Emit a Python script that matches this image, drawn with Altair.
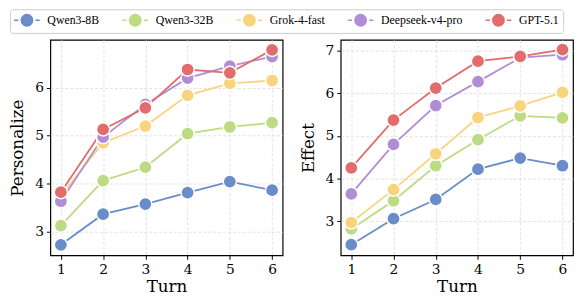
import altair as alt
import pandas as pd

turns = [1, 2, 3, 4, 5, 6]
models = ["Qwen3-8B", "Qwen3-32B", "Grok-4-fast", "Deepseek-v4-pro", "GPT-5.1"]
colors = ["#6a8cc8", "#bcdb82", "#f9d47e", "#b08ed5", "#e26b6b"]

personalize = {
    "Qwen3-8B": [2.72, 3.36, 3.57, 3.81, 4.04, 3.86],
    "Qwen3-32B": [3.12, 4.06, 4.34, 5.04, 5.18, 5.27],
    "Grok-4-fast": [3.75, 4.85, 5.20, 5.84, 6.09, 6.15],
    "Deepseek-v4-pro": [3.63, 4.97, 5.65, 6.20, 6.45, 6.65],
    "GPT-5.1": [3.82, 5.13, 5.58, 6.38, 6.31, 6.79],
}
effect = {
    "Qwen3-8B": [2.45, 3.06, 3.51, 4.22, 4.48, 4.30],
    "Qwen3-32B": [2.82, 3.48, 4.30, 4.91, 5.47, 5.42],
    "Grok-4-fast": [2.97, 3.74, 4.58, 5.43, 5.70, 6.02],
    "Deepseek-v4-pro": [3.64, 4.80, 5.71, 6.27, 6.83, 6.90],
    "GPT-5.1": [4.25, 5.37, 6.12, 6.75, 6.86, 7.02],
}

def frame(d):
    rows = []
    for m in models:
        for t, v in zip(turns, d[m]):
            rows.append({"Turn": t, "Model": m, "Value": v})
    return pd.DataFrame(rows)

FONT = "DejaVu Serif"
LEGEND_FONT = "Liberation Serif"
# dash - filled circle - dash, drawn to the right of the nominal symbol box
legend_symbol = ("M 0.08 0 A 0.96 0.96 0 1 1 2.0 0 A 0.96 0.96 0 1 1 0.08 0 Z "
                 "M -1.125 0 L -0.41 0 M 2.49 0 L 3.21 0")

color_scale = alt.Scale(domain=models, range=colors)

def panel(d, title, ydom, yticks, show_legend):
    df = frame(d)
    if show_legend:
        legend = alt.Legend(
            title=None, orient="none", legendX=-41, legendY=-31, direction="horizontal",
            columns=5, columnPadding=20, symbolType=legend_symbol, symbolSize=144,
            symbolStrokeWidth=1.5, labelFont=LEGEND_FONT, labelFontSize=12,
            labelOffset=20, padding=4, strokeColor="#cccccc", cornerRadius=3,
            fillColor="white", labelColor="black", symbolOpacity=1,
        )
    else:
        legend = None
    x = alt.X("Turn:Q", scale=alt.Scale(domain=[0.75, 6.25], nice=False),
              axis=alt.Axis(values=turns, title="Turn", format="d"))
    y = alt.Y("Value:Q", scale=alt.Scale(domain=ydom, nice=False, zero=False),
              axis=alt.Axis(values=yticks, title=title, format="d"))
    col = alt.Color("Model:N", scale=color_scale, sort=models, legend=legend)
    base = alt.Chart(df)
    lines = base.mark_line(strokeWidth=1.8).encode(x=x, y=y, color=col, order="Turn:Q")
    pts = base.mark_point(filled=True, size=180, opacity=1, stroke="white",
                          strokeWidth=1.5, shape="circle").encode(
        x=x, y=y, fill=alt.Fill("Model:N", scale=color_scale, legend=None),
        detail="Model:N")
    return alt.layer(lines, pts).properties(width=236, height=219)

left = panel(personalize, "Personalize", [2.5, 7.0], [3, 4, 5, 6], True)
right = panel(effect, "Effect", [2.2, 7.25], [3, 4, 5, 6, 7], False)

chart = alt.hconcat(left, right, spacing=59, bounds="flush").resolve_legend(
    color="independent", fill="independent"
).configure_view(
    stroke="black", strokeWidth=1.2
).configure_axis(
    labelFont=FONT, labelFontSize=14, labelColor="black",
    titleFont=FONT, titleFontSize=17, titleFontWeight="normal", titleColor="black",
    domain=False, tickColor="black", tickSize=4, tickWidth=1,
    grid=True, gridColor="#d9d9d9", gridDash=[3, 2], gridWidth=0.8,
    labelPadding=3,
).configure_axisX(titlePadding=3).configure_axisY(titlePadding=8).properties(
    padding={"left": 0, "top": -3, "right": 0, "bottom": 0},
    background="white",
)

chart.save("out.html", embed_options={"renderer": "svg", "actions": False})
